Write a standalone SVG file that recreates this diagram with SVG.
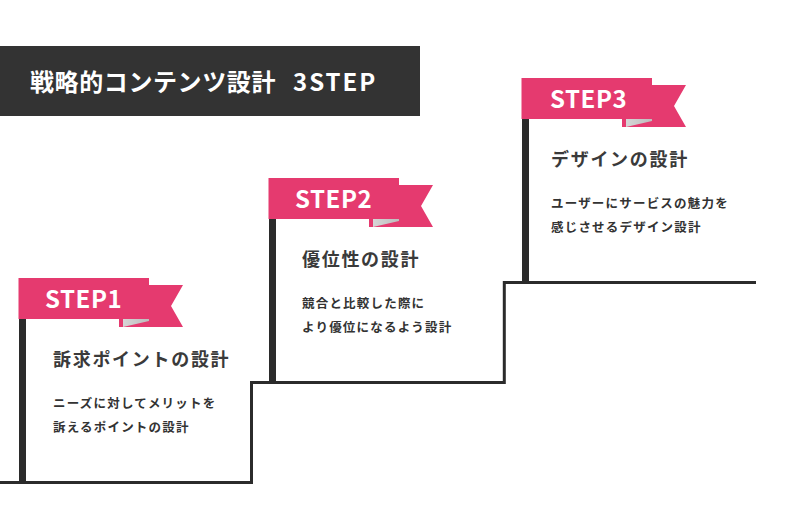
<svg xmlns="http://www.w3.org/2000/svg" width="800" height="520" viewBox="0 0 800 520">
<defs>
<linearGradient id="fold" x1="0" y1="0" x2="1" y2="0">
<stop offset="0" stop-color="#d6d6d6"/>
<stop offset="1" stop-color="#bdbdbd"/>
</linearGradient>
<g id="ribbon">
<polygon class="pink" points="100,7 164,7 152,28 164,49 100,49"/>
<polygon fill="url(#fold)" points="104,41 130,41 130,43 104,49"/>
<rect class="pink" x="-0.5" y="0" width="130.5" height="41"/>
</g>
</defs>
<style>
.pink{fill:#e53a6f}
.bar{fill:#2b2b2b}
.txt{font-family:"Noto Sans CJK JP","Noto Sans",sans-serif}
.title{fill:#fff;font-size:24px;font-weight:bold;letter-spacing:0.6px}
.step{fill:#fff;font-size:24px;font-weight:bold;letter-spacing:0.6px}
.head{fill:#3a3a3a;font-size:18px;font-weight:bold;letter-spacing:1.7px}
.body{fill:#333;font-size:12.5px;font-weight:bold;letter-spacing:1.2px}
.line{fill:none;stroke:#2b2b2b;stroke-width:3}
</style>
<g id="title">
<rect x="0" y="46" width="420" height="70" fill="#333"/>
<text class="txt title" x="30" y="91">戦略的コンテンツ設計<tspan x="293" style="letter-spacing:2px">3STEP</tspan></text>
</g>
<g id="connectors">
<polyline class="line" points="0,482.5 251.5,482.5 251.5,382.5 504.3,382.5 504.3,282.5 756,282.5"/>
</g>
<g id="step1">
<rect class="bar" x="19" y="318" width="7" height="166"/>
<use href="#ribbon" x="19" y="278"/>
<text class="txt step" x="45" y="308">STEP1</text>
<text class="txt head" x="53" y="366">訴求ポイントの設計</text>
<text class="txt body" x="53" y="408">ニーズに対してメリットを</text>
<text class="txt body" x="53" y="432">訴えるポイントの設計</text>
</g>
<g id="step2">
<rect class="bar" x="269" y="218" width="7" height="166"/>
<use href="#ribbon" x="269" y="178"/>
<text class="txt step" x="295" y="208">STEP2</text>
<text class="txt head" x="302" y="266">優位性の設計</text>
<text class="txt body" x="302" y="308">競合と比較した際に</text>
<text class="txt body" x="302" y="332">より優位になるよう設計</text>
</g>
<g id="step3">
<rect class="bar" x="522" y="118" width="7" height="166"/>
<use href="#ribbon" x="522" y="78"/>
<text class="txt step" x="550" y="108">STEP3</text>
<text class="txt head" x="551" y="166">デザインの設計</text>
<text class="txt body" x="551" y="208">ユーザーにサービスの魅力を</text>
<text class="txt body" x="551" y="232">感じさせるデザイン設計</text>
</g>
</svg>
